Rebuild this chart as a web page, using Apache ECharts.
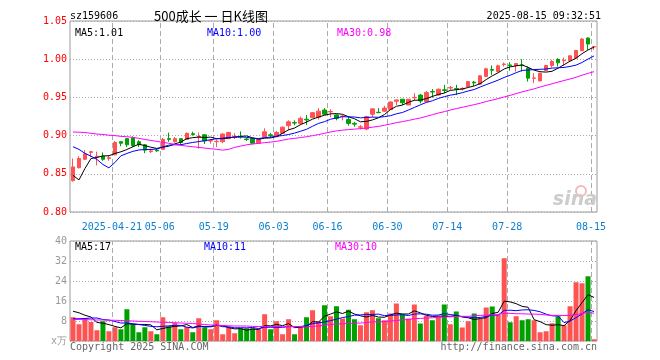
<!DOCTYPE html>
<html><head><meta charset="utf-8">
<script src="https://cdn.jsdelivr.net/npm/echarts/dist/echarts.min.js"></script>
<style>html,body{margin:0;padding:0;background:#fff}#c{width:660px;height:360px}</style>
</head><body><div id="c"></div>
<script>
// ---------- data ----------
const dates = [
'2025-04-10','2025-04-11','2025-04-14','2025-04-15','2025-04-16','2025-04-17','2025-04-18','2025-04-21','2025-04-22','2025-04-23',
'2025-04-24','2025-04-25','2025-04-28','2025-04-29','2025-04-30','2025-05-06','2025-05-07','2025-05-08','2025-05-09','2025-05-12',
'2025-05-13','2025-05-14','2025-05-15','2025-05-16','2025-05-19','2025-05-20','2025-05-21','2025-05-22','2025-05-23','2025-05-26',
'2025-05-27','2025-05-28','2025-05-29','2025-05-30','2025-06-03','2025-06-04','2025-06-05','2025-06-06','2025-06-09','2025-06-10',
'2025-06-11','2025-06-12','2025-06-13','2025-06-16','2025-06-17','2025-06-18','2025-06-19','2025-06-20','2025-06-23','2025-06-24',
'2025-06-25','2025-06-26','2025-06-27','2025-06-30','2025-07-01','2025-07-02','2025-07-03','2025-07-04','2025-07-07','2025-07-08',
'2025-07-09','2025-07-10','2025-07-11','2025-07-14','2025-07-15','2025-07-16','2025-07-17','2025-07-18','2025-07-21','2025-07-22',
'2025-07-23','2025-07-24','2025-07-25','2025-07-28','2025-07-29','2025-07-30','2025-07-31','2025-08-01','2025-08-04','2025-08-05',
'2025-08-06','2025-08-07','2025-08-08','2025-08-11','2025-08-12','2025-08-13','2025-08-14','2025-08-15'];

const opens = [
0.841,0.858,0.869,0.878,0.872,0.873,0.870,0.875,0.892,0.896,
0.897,0.892,0.888,0.879,0.881,0.882,0.896,0.892,0.896,0.895,
0.9025,0.898,0.901,0.893,0.892,0.892,0.896,0.898,0.899,0.8955,
0.896,0.890,0.8985,0.901,0.8985,0.903,0.913,0.917,0.916,0.9215,
0.9235,0.924,0.9335,0.931,0.927,0.925,0.921,0.916,0.911,0.9085,
0.928,0.9305,0.932,0.934,0.945,0.9476,0.940,0.9495,0.953,0.9444,
0.9578,0.9532,0.960,0.9623,0.9615,0.961,0.9642,0.970,0.9673,0.9773,
0.9865,0.9838,0.9932,0.9925,0.9917,0.9925,0.9883,0.975,0.9716,0.9852,
0.9917,0.9996,0.998,0.9979,1.0014,1.011,1.0277,1.0159];
const closes = [
0.859,0.870,0.876,0.879,0.873,0.869,0.871,0.891,0.890,0.888,
0.887,0.888,0.881,0.880,0.880,0.895,0.895,0.896,0.891,0.903,
0.9015,0.899,0.893,0.8935,0.8925,0.902,0.904,0.8985,0.898,0.895,
0.890,0.895,0.905,0.900,0.904,0.911,0.918,0.9165,0.9225,0.9205,
0.930,0.932,0.928,0.9315,0.9225,0.9255,0.916,0.915,0.9115,0.925,
0.935,0.930,0.936,0.944,0.9467,0.943,0.9476,0.950,0.9453,0.9563,
0.957,0.9607,0.959,0.9628,0.961,0.9615,0.9707,0.969,0.9782,0.9874,
0.9855,0.9913,0.9937,0.9917,0.9943,0.9915,0.9752,0.9755,0.9817,0.9917,
0.997,0.9953,0.9985,1.0044,1.0114,1.0264,1.0198,1.0167];
const lows = [
0.840,0.857,0.868,0.872,0.861,0.867,0.867,0.874,0.886,0.885,
0.885,0.885,0.877,0.877,0.879,0.881,0.892,0.891,0.888,0.895,
0.900,0.883,0.889,0.8895,0.885,0.890,0.8955,0.8955,0.896,0.893,
0.8885,0.8895,0.898,0.8975,0.8985,0.9025,0.907,0.9135,0.914,0.914,
0.923,0.921,0.927,0.924,0.920,0.920,0.913,0.9115,0.908,0.907,
0.924,0.9298,0.931,0.9335,0.940,0.940,0.940,0.9458,0.9423,0.944,
0.9497,0.9523,0.9555,0.960,0.953,0.959,0.9635,0.965,0.967,0.977,
0.9795,0.983,0.9904,0.985,0.9838,0.9838,0.9707,0.9686,0.971,0.985,
0.9891,0.9904,0.9917,0.9975,1.001,1.0106,1.0123,1.0123];
const highs = [
0.870,0.873,0.881,0.880,0.879,0.878,0.874,0.893,0.893,0.897,
0.899,0.894,0.889,0.883,0.883,0.897,0.904,0.898,0.896,0.904,
0.905,0.904,0.902,0.8955,0.895,0.903,0.905,0.903,0.9055,0.897,
0.897,0.8955,0.9095,0.9035,0.906,0.912,0.920,0.920,0.925,0.927,
0.931,0.936,0.936,0.9345,0.928,0.927,0.925,0.918,0.914,0.926,
0.9355,0.936,0.939,0.9447,0.947,0.948,0.948,0.9555,0.9545,0.9585,
0.961,0.9615,0.9664,0.965,0.9664,0.9634,0.9715,0.9716,0.979,0.9887,
0.9917,0.993,0.9957,0.9962,0.9946,1.000,0.9904,0.9817,0.9822,0.9925,
0.9992,1.0014,1.0022,1.005,1.0122,1.0277,1.0285,1.017];
const volumes = [
9.5,6.7,9.1,7.6,4.3,7.9,3.9,5.5,4.7,12.7,
6.7,3.5,5.5,3.9,2.7,9.5,5.9,7.3,4.7,5.6,
3.5,9.1,5.5,4.7,8.3,2.7,5.5,3.1,5.1,5.1,
5.1,4.7,10.7,4.7,7.9,2.7,8.7,2.7,5.5,9.5,
12.3,7.9,14.3,9.9,13.9,9.0,12.5,8.7,6.3,11.5,
12.3,9.1,8.3,11.0,15.0,10.7,9.0,14.6,7.0,10.1,
8.3,9.7,14.6,6.7,11.8,5.4,7.9,11.0,8.9,13.4,
13.8,10.4,33.1,7.5,9.9,8.3,8.7,8.3,3.5,3.9,
7.1,9.9,6.3,13.9,23.5,23.1,25.9,0.7];

const ma5Seed  = [0.848,0.842,0.857,0.870];
const ma10Seed = [0.8854,0.882,0.8767,0.8731,0.8688,0.8622,0.8578,0.8648,0.8735];
const ma30Seed = [0.9047,0.9045,0.904,0.903,0.902,0.9015,0.9005,0.900,0.899,0.8985,
                  0.8977,0.8964,0.895,0.8937,0.8925,0.891,0.890,0.8885,0.8872,0.8863,
                  0.8854,0.8845,0.8837,0.8828,0.882,0.881,0.882,0.8846,0.8863];
const vma5Seed  = [11.9,11.3,10.3,9.6];
const vma10Seed = [8.9,8.9,9.0,9.2,9.2,8.6,8.4,7.8,7.2];
const vma30Seed = [8.6,8.6,8.5,8.5,8.4,8.4,8.3,8.3,8.2,8.1,8.0,7.9,7.8,7.7,7.6,7.5,7.4,7.3,7.2,7.1,
                   7.0,6.8,6.6,6.4,6.3,6.2,6.1,6.0,6.0];

const tickIdx  = [7,15,24,34,43,53,63,73,87];
const tickText = ['2025-04-21','05-06','05-19','06-03','06-16','06-30','07-14','07-28','08-15'];
const priceLegend = ['MA5:1.01','MA10:1.00','MA30:0.98'];
const volLegend   = ['MA5:17','MA10:11','MA30:10'];
const headerCode = 'sz159606';
const headerTitle = '500成长 一 日K线图';
const headerTime = '2025-08-15 09:32:51';
const footerLeft = 'Copyright 2025 SINA.COM';
const footerRight = 'http://finance.sina.com.cn';

// ---------- chart ----------
function ma(arr, n, seed) {
  return arr.map((_, i) => {
    if (i < n - 1) return seed[i];
    let s = 0; for (let k = i - n + 1; k <= i; k++) s += arr[k];
    return s / n;
  });
}
const MONO = 'DejaVu Sans Mono';
const RED = '#ff5252', GREEN = '#00a000';
const candle = dates.map((d, i) => [opens[i], closes[i], lows[i], highs[i]]);
const volData = volumes.map((v, i) => ({ value: v, itemStyle: { color: closes[i] >= opens[i] ? RED : GREEN } }));
const isTick = (i) => tickIdx.indexOf(i) >= 0;

const chart = echarts.init(document.getElementById('c'), null, { renderer: 'canvas' });
const lineS = (name, data, color, xi) => ({
  name, type: 'line', data, xAxisIndex: xi, yAxisIndex: xi, symbol: 'none', smooth: false,
  lineStyle: { width: 1, color }, itemStyle: { color }, z: 5, silent: true, animation: false
});
const txt = (text, x, y, color, align, font) => ({
  type: 'text', x, y, silent: true, z: 100,
  style: { text, fill: color, font: font || ('10px ' + MONO), textAlign: align || 'left', textVerticalAlign: 'middle' }
});

// vertical dashed day lines: markLines on hidden day-count axes (value i = left edge of day i's band)
function dayLines(xIdx, yIdx) {
  return {
    type: 'line', name: 'days' + xIdx, xAxisIndex: xIdx, yAxisIndex: yIdx, data: [], silent: true, z: 1,
    symbol: 'none', animation: false,
    markLine: {
      silent: true, symbol: ['none', 'none'], animation: false, precision: 4,
      label: { show: false },
      lineStyle: { color: '#aaaaaa', type: [5, 3], width: 1 },
      emphasis: { disabled: true },
      data: tickIdx.map((i) => ({ xAxis: i }))
    }
  };
}

chart.setOption({
  animation: false,
  backgroundColor: '#fff',
  grid: [
    { left: 70, top: 21, width: 527, height: 191, show: true, borderColor: '#999', borderWidth: 1, backgroundColor: 'rgba(0,0,0,0)' },
    { left: 70, top: 241, width: 527, height: 100, show: true, borderColor: '#999', borderWidth: 1, backgroundColor: 'rgba(0,0,0,0)' }
  ],
  xAxis: [
    { type: 'category', gridIndex: 0, data: dates, boundaryGap: true,
      axisLine: { show: false }, axisTick: { show: false },
      axisLabel: { interval: (i) => isTick(i), formatter: (v, i) => tickText[tickIdx.indexOf(i)],
        color: '#0a7fd0', fontFamily: MONO, fontSize: 10, margin: 10, padding: [0, 6, 0, 0] },
      splitLine: { show: false } },
    { type: 'category', gridIndex: 1, data: dates, boundaryGap: true,
      axisLine: { show: false }, axisTick: { show: false }, axisLabel: { show: false },
      splitLine: { show: false } },
    { type: 'value', gridIndex: 0, min: 0, max: dates.length, show: false, position: 'top' },
    { type: 'value', gridIndex: 1, min: 0, max: dates.length, show: false, position: 'top' }
  ],
  yAxis: [
    { type: 'value', gridIndex: 0, min: 0.8, max: 1.05, interval: 0.05, scale: true,
      axisLine: { show: false }, axisTick: { show: false },
      axisLabel: { color: '#ff0000', fontFamily: MONO, fontSize: 10, margin: 3, formatter: (v) => v.toFixed(2) },
      splitLine: { show: true, lineStyle: { color: '#aaa', type: [1, 2], width: 1 } } },
    { type: 'value', gridIndex: 1, min: 0, max: 40, interval: 8,
      axisLine: { show: false }, axisTick: { show: false },
      axisLabel: { color: '#999', fontFamily: MONO, fontSize: 10, margin: 3, formatter: (v) => v === 0 ? 'x万' : String(v) },
      splitLine: { show: true, lineStyle: { color: '#aaa', type: [1, 2], width: 1 } } }
  ],
  series: [
    dayLines(2, 0),
    dayLines(3, 1),
    { name: 'K', type: 'candlestick', xAxisIndex: 0, yAxisIndex: 0, data: candle, barWidth: 4, z: 3,
      itemStyle: { color: RED, color0: GREEN, borderColor: RED, borderColor0: GREEN, borderWidth: 1 } },
    lineS('MA5', ma(closes, 5, ma5Seed), '#000000', 0),
    lineS('MA10', ma(closes, 10, ma10Seed), '#0000ff', 0),
    lineS('MA30', ma(closes, 30, ma30Seed), '#ff00ff', 0),
    { name: 'VOL', type: 'bar', xAxisIndex: 1, yAxisIndex: 1, data: volData, barWidth: 5, z: 3 },
    lineS('VMA5', ma(volumes, 5, vma5Seed), '#000000', 1),
    lineS('VMA10', ma(volumes, 10, vma10Seed), '#0000ff', 1),
    lineS('VMA30', ma(volumes, 30, vma30Seed), '#ff00ff', 1)
  ],
  graphic: {
    elements: [
      txt(headerCode, 70, 16, '#000'),
      txt(headerTitle, 211, 16, '#000', 'center', '13px "Noto Sans CJK SC"'),
      txt(headerTime, 601, 16, '#000', 'right'),
      txt(priceLegend[0], 75, 33, '#000'),
      txt(priceLegend[1], 207, 33, '#0000ff'),
      txt(priceLegend[2], 337, 33, '#ff00ff'),
      txt(volLegend[0], 75, 247, '#000'),
      txt(volLegend[1], 204, 247, '#0000ff'),
      txt(volLegend[2], 335, 247, '#ff00ff'),
      txt(footerLeft, 70, 347, '#666'),
      txt(footerRight, 597, 347, '#666', 'right'),
      { type: 'circle', shape: { cx: 581, cy: 191, r: 5 }, style: { fill: 'none', stroke: '#f4b8b8', lineWidth: 2 }, silent: true, z: 1 },
      txt('sina', 597, 200, '#cccccc', 'right', 'italic bold 19px "DejaVu Sans"')
    ]
  }
});
</script>
</body></html>
